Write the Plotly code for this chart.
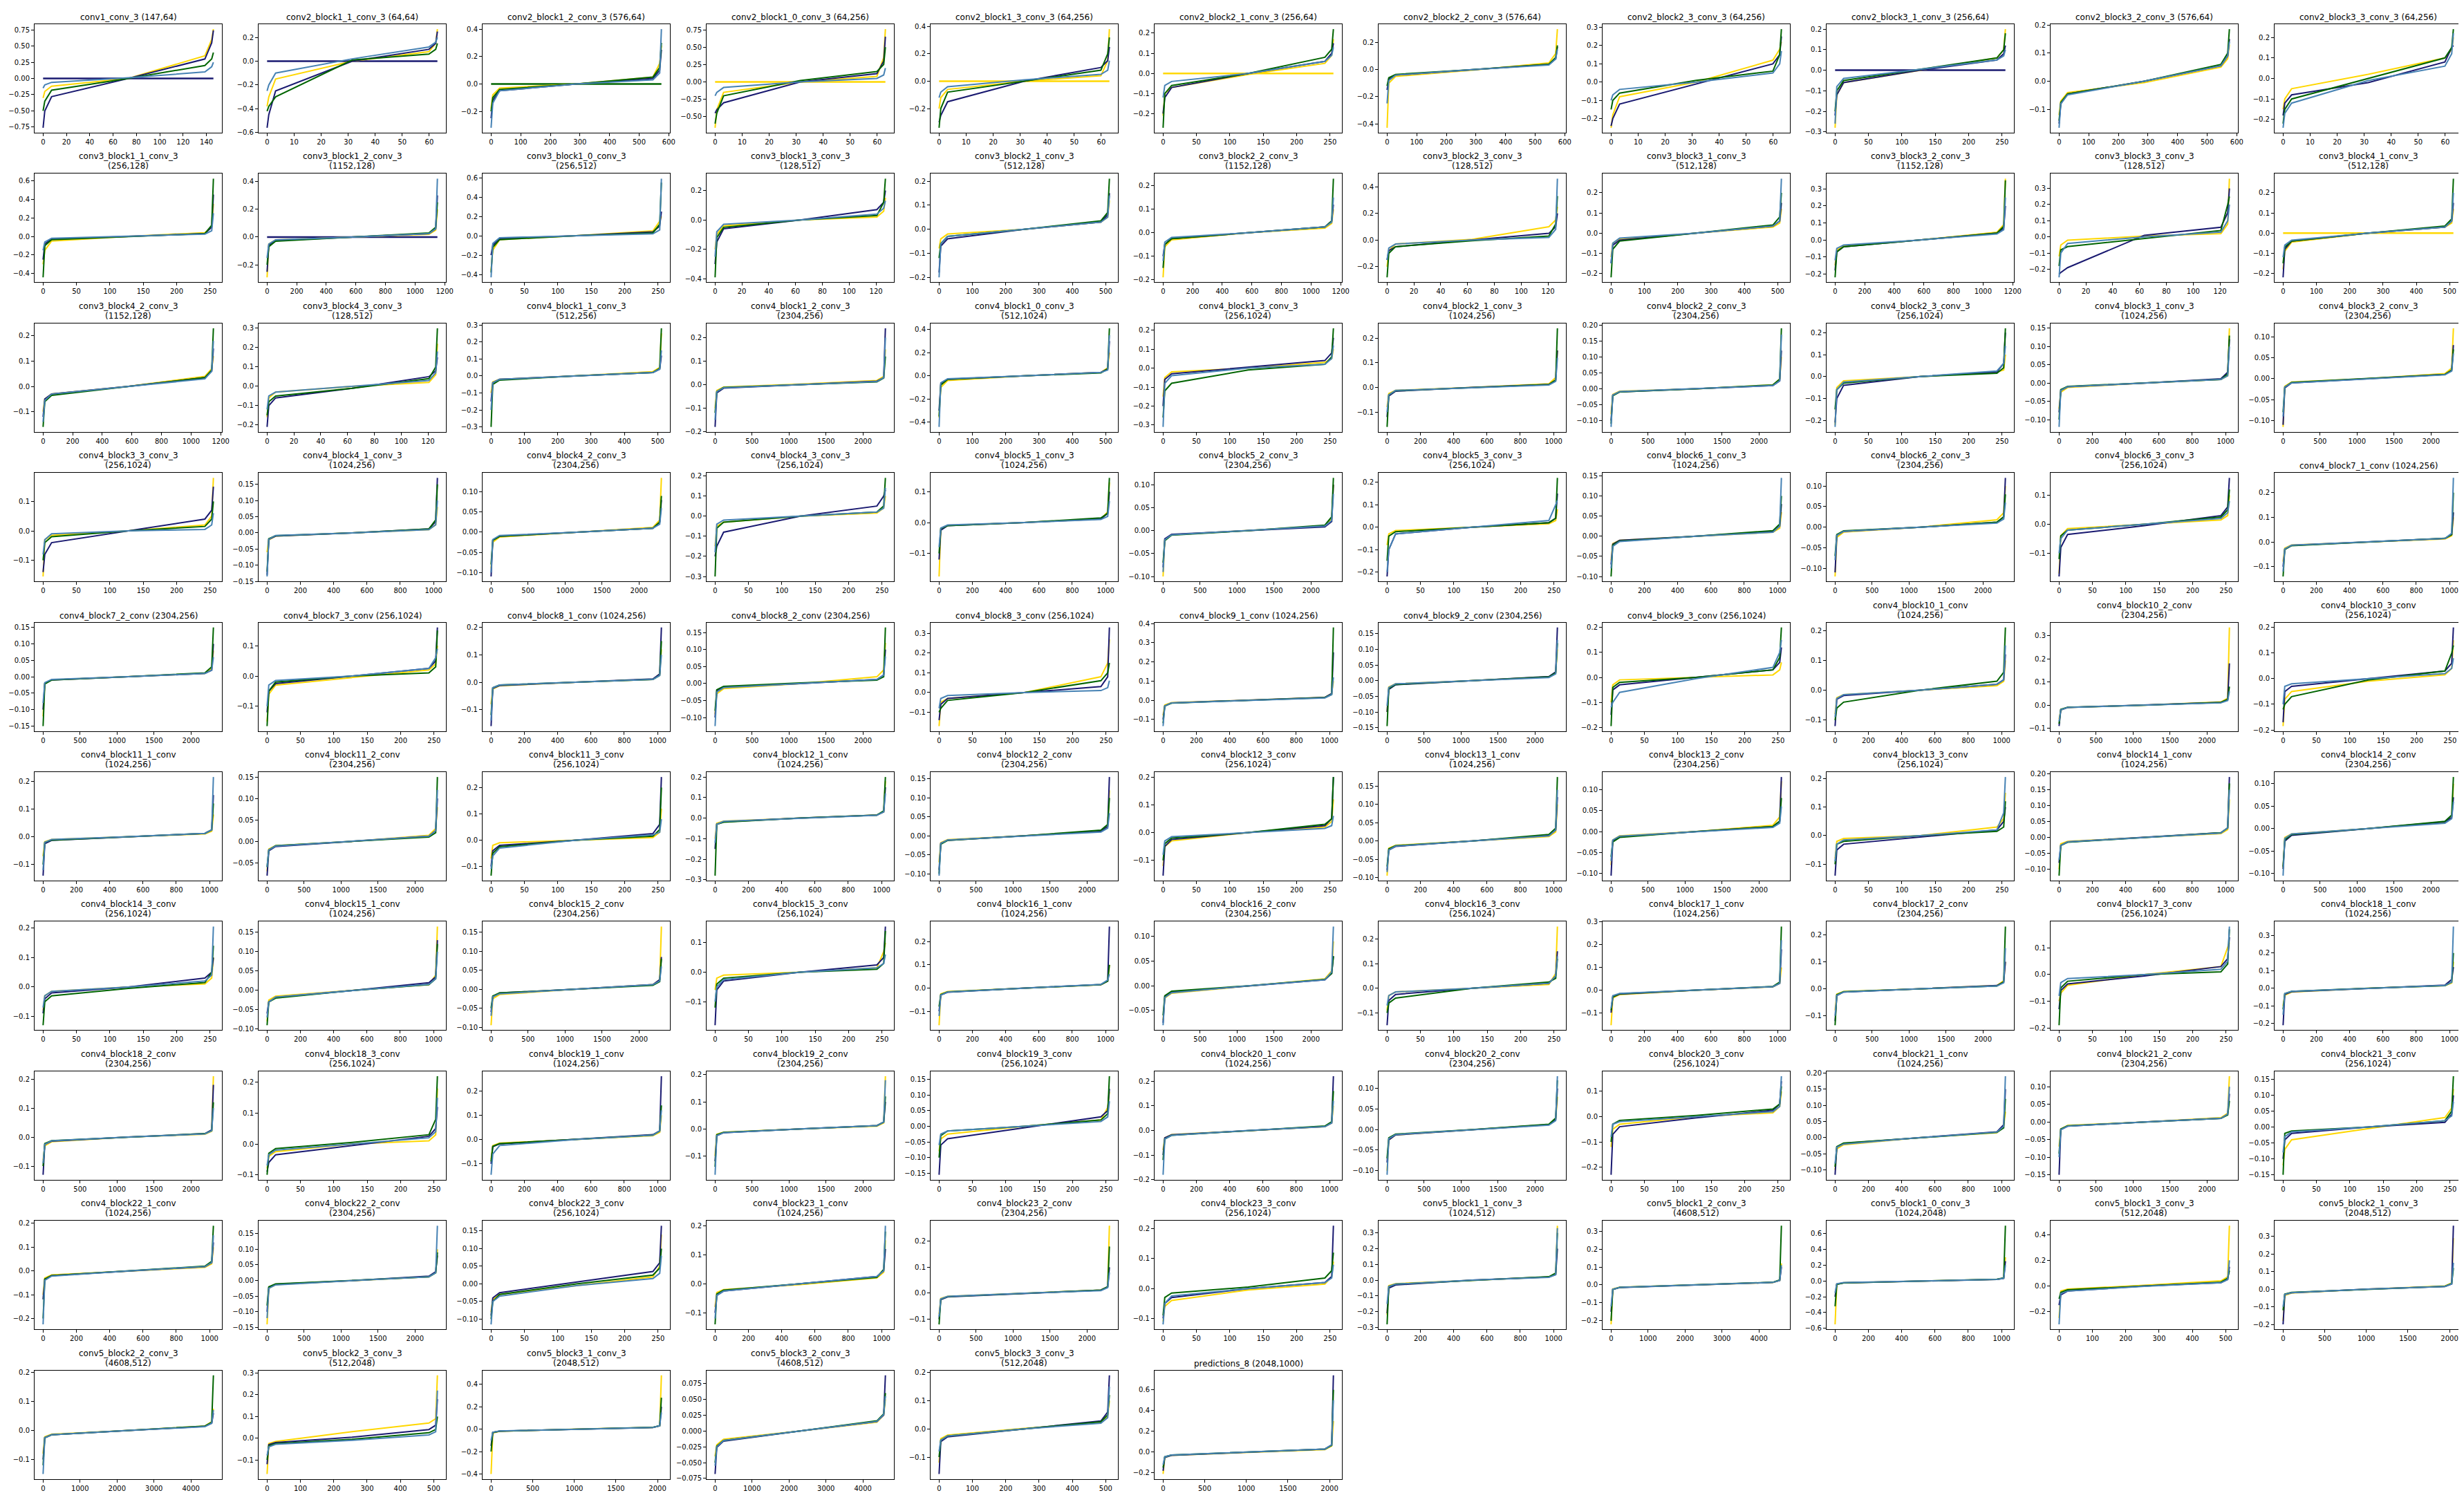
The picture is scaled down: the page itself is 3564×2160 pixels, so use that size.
import math
import plotly.graph_objects as go

W, H = 3564, 2160
FONT = "DejaVu Sans"

TITLES = [
    "conv1_conv_3 (147,64)", "conv2_block1_1_conv_3 (64,64)", "conv2_block1_2_conv_3 (576,64)",
    "conv2_block1_0_conv_3 (64,256)", "conv2_block1_3_conv_3 (64,256)", "conv2_block2_1_conv_3 (256,64)",
    "conv2_block2_2_conv_3 (576,64)", "conv2_block2_3_conv_3 (64,256)", "conv2_block3_1_conv_3 (256,64)",
    "conv2_block3_2_conv_3 (576,64)", "conv2_block3_3_conv_3 (64,256)",
    "conv3_block1_1_conv_3\n(256,128)", "conv3_block1_2_conv_3\n(1152,128)", "conv3_block1_0_conv_3\n(256,512)",
    "conv3_block1_3_conv_3\n(128,512)", "conv3_block2_1_conv_3\n(512,128)", "conv3_block2_2_conv_3\n(1152,128)",
    "conv3_block2_3_conv_3\n(128,512)", "conv3_block3_1_conv_3\n(512,128)", "conv3_block3_2_conv_3\n(1152,128)",
    "conv3_block3_3_conv_3\n(128,512)", "conv3_block4_1_conv_3\n(512,128)",
    "conv3_block4_2_conv_3\n(1152,128)", "conv3_block4_3_conv_3\n(128,512)", "conv4_block1_1_conv_3\n(512,256)",
    "conv4_block1_2_conv_3\n(2304,256)", "conv4_block1_0_conv_3\n(512,1024)", "conv4_block1_3_conv_3\n(256,1024)",
    "conv4_block2_1_conv_3\n(1024,256)", "conv4_block2_2_conv_3\n(2304,256)", "conv4_block2_3_conv_3\n(256,1024)",
    "conv4_block3_1_conv_3\n(1024,256)", "conv4_block3_2_conv_3\n(2304,256)",
    "conv4_block3_3_conv_3\n(256,1024)", "conv4_block4_1_conv_3\n(1024,256)", "conv4_block4_2_conv_3\n(2304,256)",
    "conv4_block4_3_conv_3\n(256,1024)", "conv4_block5_1_conv_3\n(1024,256)", "conv4_block5_2_conv_3\n(2304,256)",
    "conv4_block5_3_conv_3\n(256,1024)", "conv4_block6_1_conv_3\n(1024,256)", "conv4_block6_2_conv_3\n(2304,256)",
    "conv4_block6_3_conv_3\n(256,1024)", "conv4_block7_1_conv (1024,256)",
    "conv4_block7_2_conv (2304,256)", "conv4_block7_3_conv (256,1024)", "conv4_block8_1_conv (1024,256)",
    "conv4_block8_2_conv (2304,256)", "conv4_block8_3_conv (256,1024)", "conv4_block9_1_conv (1024,256)",
    "conv4_block9_2_conv (2304,256)", "conv4_block9_3_conv (256,1024)", "conv4_block10_1_conv\n(1024,256)",
    "conv4_block10_2_conv\n(2304,256)", "conv4_block10_3_conv\n(256,1024)",
    "conv4_block11_1_conv\n(1024,256)", "conv4_block11_2_conv\n(2304,256)", "conv4_block11_3_conv\n(256,1024)",
    "conv4_block12_1_conv\n(1024,256)", "conv4_block12_2_conv\n(2304,256)", "conv4_block12_3_conv\n(256,1024)",
    "conv4_block13_1_conv\n(1024,256)", "conv4_block13_2_conv\n(2304,256)", "conv4_block13_3_conv\n(256,1024)",
    "conv4_block14_1_conv\n(1024,256)", "conv4_block14_2_conv\n(2304,256)",
    "conv4_block14_3_conv\n(256,1024)", "conv4_block15_1_conv\n(1024,256)", "conv4_block15_2_conv\n(2304,256)",
    "conv4_block15_3_conv\n(256,1024)", "conv4_block16_1_conv\n(1024,256)", "conv4_block16_2_conv\n(2304,256)",
    "conv4_block16_3_conv\n(256,1024)", "conv4_block17_1_conv\n(1024,256)", "conv4_block17_2_conv\n(2304,256)",
    "conv4_block17_3_conv\n(256,1024)", "conv4_block18_1_conv\n(1024,256)",
    "conv4_block18_2_conv\n(2304,256)", "conv4_block18_3_conv\n(256,1024)", "conv4_block19_1_conv\n(1024,256)",
    "conv4_block19_2_conv\n(2304,256)", "conv4_block19_3_conv\n(256,1024)", "conv4_block20_1_conv\n(1024,256)",
    "conv4_block20_2_conv\n(2304,256)", "conv4_block20_3_conv\n(256,1024)", "conv4_block21_1_conv\n(1024,256)",
    "conv4_block21_2_conv\n(2304,256)", "conv4_block21_3_conv\n(256,1024)",
    "conv4_block22_1_conv\n(1024,256)", "conv4_block22_2_conv\n(2304,256)", "conv4_block22_3_conv\n(256,1024)",
    "conv4_block23_1_conv\n(1024,256)", "conv4_block23_2_conv\n(2304,256)", "conv4_block23_3_conv\n(256,1024)",
    "conv5_block1_1_conv_3\n(1024,512)", "conv5_block1_2_conv_3\n(4608,512)", "conv5_block1_0_conv_3\n(1024,2048)",
    "conv5_block1_3_conv_3\n(512,2048)", "conv5_block2_1_conv_3\n(2048,512)",
    "conv5_block2_2_conv_3\n(4608,512)", "conv5_block2_3_conv_3\n(512,2048)", "conv5_block3_1_conv_3\n(2048,512)",
    "conv5_block3_2_conv_3\n(4608,512)", "conv5_block3_3_conv_3\n(512,2048)", "predictions_8 (2048,1000)",
]

# number of sorted values per curve (first dimension in each title)
NX = [
    147, 64, 576, 64, 64, 256, 576, 64, 256, 576, 64,
    256, 1152, 256, 128, 512, 1152, 128, 512, 1152, 128, 512,
    1152, 128, 512, 2304, 512, 256, 1024, 2304, 256, 1024, 2304,
    256, 1024, 2304, 256, 1024, 2304, 256, 1024, 2304, 256, 1024,
    2304, 256, 1024, 2304, 256, 1024, 2304, 256, 1024, 2304, 256,
    1024, 2304, 256, 1024, 2304, 256, 1024, 2304, 256, 1024, 2304,
    256, 1024, 2304, 256, 1024, 2304, 256, 1024, 2304, 256, 1024,
    2304, 256, 1024, 2304, 256, 1024, 2304, 256, 1024, 2304, 256,
    1024, 2304, 256, 1024, 2304, 256, 1024, 4608, 1024, 512, 2048,
    4608, 512, 2048, 4608, 512, 2048,
]

# fraction of the sorted index at which each value below was read
FRAC = [0.0, 0.01, 0.05, 0.5, 0.95, 0.99, 1.0]

NAVY = [
    [-0.76, -0.5, -0.28, 0.0, 0.3, 0.55, 0.74], [-0.56, -0.45, -0.25, 0.0, 0.1, 0.15, 0.25],
    [-0.25, -0.12, -0.05, 0.0, 0.04, 0.1, 0.25], [-0.45, -0.4, -0.3, 0.0, 0.12, 0.3, 0.65],
    [-0.3, -0.25, -0.15, 0.0, 0.1, 0.15, 0.25], [-0.2, -0.12, -0.07, 0.0, 0.06, 0.1, 0.15],
    [-0.15, -0.07, -0.04, 0.0, 0.04, 0.08, 0.17], [-0.24, -0.2, -0.12, -0.01, 0.1, 0.15, 0.25],
    [-0.22, -0.12, -0.06, 0.0, 0.05, 0.08, 0.12], [-0.15, -0.08, -0.045, 0.0, 0.055, 0.09, 0.15],
    [-0.18, -0.12, -0.08, -0.02, 0.08, 0.15, 0.16],
    [-0.25, -0.08, -0.03, 0.0, 0.03, 0.1, 0.45], [-0.25, -0.06, -0.025, 0.0, 0.025, 0.06, 0.3],
    [-0.2, -0.1, -0.03, 0.0, 0.04, 0.1, 0.25], [-0.3, -0.15, -0.06, 0.0, 0.07, 0.12, 0.2],
    [-0.18, -0.07, -0.04, 0.0, 0.03, 0.06, 0.15], [-0.1, -0.05, -0.025, 0.0, 0.025, 0.05, 0.12],
    [-0.15, -0.08, -0.05, 0.0, 0.05, 0.1, 0.2], [-0.15, -0.06, -0.035, 0.0, 0.035, 0.06, 0.15],
    [-0.18, -0.07, -0.04, 0.0, 0.04, 0.07, 0.2], [-0.23, -0.22, -0.19, 0.01, 0.06, 0.15, 0.3],
    [-0.22, -0.08, -0.04, 0.0, 0.03, 0.06, 0.15],
    [-0.12, -0.05, -0.03, 0.0, 0.035, 0.06, 0.15], [-0.21, -0.1, -0.06, -0.01, 0.05, 0.08, 0.15],
    [-0.15, -0.04, -0.02, 0.0, 0.02, 0.04, 0.12], [-0.18, -0.035, -0.015, 0.0, 0.015, 0.03, 0.24],
    [-0.3, -0.07, -0.03, 0.0, 0.03, 0.06, 0.3], [-0.2, -0.06, -0.03, 0.005, 0.04, 0.08, 0.16],
    [-0.12, -0.035, -0.015, 0.0, 0.012, 0.03, 0.15], [-0.1, -0.02, -0.01, 0.0, 0.01, 0.025, 0.12],
    [-0.21, -0.1, -0.04, 0.0, 0.02, 0.06, 0.2], [-0.08, -0.02, -0.01, 0.0, 0.012, 0.03, 0.12],
    [-0.11, -0.022, -0.01, 0.0, 0.01, 0.02, 0.08],
    [-0.14, -0.08, -0.04, 0.0, 0.04, 0.07, 0.15], [-0.13, -0.02, -0.01, 0.0, 0.012, 0.035, 0.17],
    [-0.11, -0.02, -0.01, 0.0, 0.01, 0.025, 0.08], [-0.2, -0.15, -0.08, 0.0, 0.05, 0.1, 0.13],
    [-0.12, -0.025, -0.01, 0.0, 0.012, 0.03, 0.1], [-0.08, -0.018, -0.008, 0.0, 0.008, 0.02, 0.1],
    [-0.22, -0.1, -0.03, 0.0, 0.02, 0.04, 0.15], [-0.07, -0.02, -0.01, 0.0, 0.012, 0.025, 0.08],
    [-0.11, -0.02, -0.01, 0.0, 0.012, 0.025, 0.12], [-0.18, -0.08, -0.035, -0.005, 0.03, 0.06, 0.16],
    [-0.1, -0.03, -0.014, 0.0, 0.014, 0.03, 0.12],
    [-0.1, -0.02, -0.01, 0.0, 0.01, 0.02, 0.1], [-0.12, -0.05, -0.025, 0.0, 0.025, 0.05, 0.16],
    [-0.16, -0.022, -0.012, 0.0, 0.012, 0.03, 0.2], [-0.1, -0.02, -0.01, 0.0, 0.012, 0.025, 0.1],
    [-0.14, -0.06, -0.03, 0.0, 0.03, 0.08, 0.33], [-0.1, -0.03, -0.014, 0.0, 0.015, 0.035, 0.25],
    [-0.1, -0.028, -0.013, 0.0, 0.013, 0.028, 0.17], [-0.15, -0.05, -0.03, 0.0, 0.03, 0.06, 0.12],
    [-0.12, -0.03, -0.018, 0.0, 0.02, 0.035, 0.12], [-0.09, -0.02, -0.01, 0.0, 0.012, 0.025, 0.18],
    [-0.17, -0.05, -0.03, 0.0, 0.03, 0.06, 0.2],
    [-0.14, -0.025, -0.013, 0.0, 0.012, 0.025, 0.15], [-0.08, -0.022, -0.012, 0.0, 0.012, 0.025, 0.1],
    [-0.1, -0.04, -0.02, 0.0, 0.025, 0.06, 0.24], [-0.15, -0.03, -0.018, 0.0, 0.015, 0.03, 0.15],
    [-0.09, -0.02, -0.012, 0.0, 0.012, 0.025, 0.155], [-0.155, -0.05, -0.025, 0.0, 0.025, 0.05, 0.2],
    [-0.08, -0.025, -0.015, 0.0, 0.015, 0.03, 0.12], [-0.105, -0.022, -0.012, 0.0, 0.012, 0.025, 0.13],
    [-0.14, -0.05, -0.03, -0.005, 0.02, 0.05, 0.1], [-0.08, -0.025, -0.014, 0.0, 0.015, 0.03, 0.19],
    [-0.09, -0.028, -0.015, 0.0, 0.015, 0.025, 0.07],
    [-0.09, -0.04, -0.02, 0.0, 0.03, 0.05, 0.1], [-0.06, -0.03, -0.018, 0.0, 0.02, 0.035, 0.13],
    [-0.06, -0.02, -0.01, 0.0, 0.012, 0.025, 0.085], [-0.18, -0.06, -0.03, 0.0, 0.025, 0.05, 0.155],
    [-0.1, -0.03, -0.018, 0.0, 0.015, 0.03, 0.265], [-0.075, -0.022, -0.013, 0.0, 0.012, 0.025, 0.06],
    [-0.15, -0.05, -0.025, 0.0, 0.02, 0.05, 0.15], [-0.1, -0.03, -0.018, 0.0, 0.015, 0.03, 0.18],
    [-0.12, -0.025, -0.012, 0.0, 0.012, 0.025, 0.1], [-0.13, -0.06, -0.035, -0.005, 0.03, 0.06, 0.14],
    [-0.21, -0.035, -0.02, 0.0, 0.018, 0.05, 0.12],
    [-0.13, -0.025, -0.014, 0.0, 0.012, 0.025, 0.18], [-0.09, -0.06, -0.035, -0.005, 0.025, 0.05, 0.12],
    [-0.1, -0.03, -0.018, 0.0, 0.02, 0.035, 0.26], [-0.12, -0.025, -0.014, 0.0, 0.012, 0.025, 0.1],
    [-0.155, -0.06, -0.04, -0.005, 0.03, 0.05, 0.12], [-0.1, -0.03, -0.018, 0.0, 0.016, 0.03, 0.22],
    [-0.08, -0.025, -0.013, 0.0, 0.012, 0.025, 0.1], [-0.23, -0.07, -0.04, -0.005, 0.025, 0.05, 0.14],
    [-0.115, -0.03, -0.018, 0.0, 0.018, 0.04, 0.15], [-0.15, -0.022, -0.012, 0.0, 0.01, 0.022, 0.08],
    [-0.1, -0.04, -0.02, 0.0, 0.015, 0.04, 0.1],
    [-0.12, -0.035, -0.02, 0.0, 0.018, 0.035, 0.12], [-0.1, -0.022, -0.012, 0.0, 0.014, 0.028, 0.08],
    [-0.09, -0.04, -0.025, 0.005, 0.035, 0.06, 0.165], [-0.1, -0.04, -0.025, 0.0, 0.025, 0.045, 0.12],
    [-0.1, -0.025, -0.014, 0.0, 0.012, 0.025, 0.1], [-0.1, -0.05, -0.03, 0.0, 0.02, 0.04, 0.21],
    [-0.21, -0.05, -0.03, 0.0, 0.02, 0.035, 0.2], [-0.15, -0.025, -0.015, 0.0, 0.014, 0.025, 0.1],
    [-0.2, -0.04, -0.025, 0.0, 0.02, 0.035, 0.25], [-0.15, -0.07, -0.04, 0.0, 0.025, 0.05, 0.15],
    [-0.2, -0.03, -0.02, 0.0, 0.015, 0.03, 0.36],
    [-0.1, -0.025, -0.015, 0.0, 0.014, 0.025, 0.06], [-0.12, -0.03, -0.02, 0.005, 0.04, 0.06, 0.18],
    [-0.15, -0.03, -0.018, 0.0, 0.015, 0.03, 0.2], [-0.068, -0.026, -0.016, 0.0, 0.015, 0.025, 0.088],
    [-0.16, -0.045, -0.028, 0.0, 0.028, 0.06, 0.19], [-0.18, -0.05, -0.03, 0.0, 0.03, 0.07, 0.74],
]

GREEN = [
    [-0.5, -0.35, -0.18, 0.0, 0.2, 0.3, 0.4], [-0.42, -0.38, -0.3, 0.01, 0.06, 0.1, 0.15],
    [-0.2, -0.1, -0.04, 0.0, 0.05, 0.12, 0.3], [-0.6, -0.45, -0.2, 0.02, 0.15, 0.25, 0.5],
    [-0.34, -0.2, -0.08, 0.0, 0.08, 0.2, 0.32], [-0.27, -0.1, -0.06, 0.0, 0.08, 0.12, 0.22],
    [-0.12, -0.06, -0.035, 0.0, 0.04, 0.09, 0.18], [-0.15, -0.1, -0.06, 0.01, 0.06, 0.15, 0.29],
    [-0.2, -0.1, -0.05, 0.005, 0.06, 0.1, 0.18], [-0.14, -0.075, -0.045, 0.0, 0.06, 0.1, 0.185],
    [-0.22, -0.15, -0.1, 0.0, 0.1, 0.15, 0.24],
    [-0.44, -0.1, -0.035, 0.0, 0.03, 0.12, 0.62], [-0.2, -0.07, -0.03, 0.0, 0.03, 0.07, 0.25],
    [-0.38, -0.12, -0.04, 0.0, 0.03, 0.12, 0.55], [-0.39, -0.12, -0.05, 0.0, 0.03, 0.12, 0.28],
    [-0.12, -0.06, -0.03, 0.0, 0.035, 0.07, 0.21], [-0.15, -0.05, -0.025, 0.0, 0.025, 0.05, 0.23],
    [-0.28, -0.1, -0.05, -0.005, 0.03, 0.12, 0.33], [-0.22, -0.08, -0.04, 0.0, 0.04, 0.08, 0.2],
    [-0.22, -0.07, -0.04, 0.0, 0.04, 0.08, 0.35], [-0.18, -0.08, -0.06, -0.01, 0.04, 0.2, 0.25],
    [-0.15, -0.07, -0.04, 0.0, 0.035, 0.07, 0.27],
    [-0.16, -0.06, -0.035, 0.0, 0.035, 0.065, 0.23], [-0.15, -0.08, -0.05, -0.01, 0.04, 0.1, 0.3],
    [-0.3, -0.05, -0.025, 0.0, 0.02, 0.045, 0.28], [-0.12, -0.03, -0.012, 0.0, 0.012, 0.028, 0.12],
    [-0.35, -0.08, -0.03, 0.0, 0.025, 0.06, 0.41], [-0.26, -0.12, -0.08, -0.01, 0.02, 0.06, 0.21],
    [-0.16, -0.03, -0.013, 0.0, 0.012, 0.03, 0.24], [-0.11, -0.022, -0.01, 0.0, 0.012, 0.03, 0.19],
    [-0.15, -0.06, -0.03, 0.0, 0.015, 0.04, 0.22], [-0.1, -0.018, -0.009, 0.0, 0.01, 0.025, 0.13],
    [-0.08, -0.02, -0.009, 0.0, 0.01, 0.02, 0.07],
    [-0.1, -0.04, -0.02, 0.0, 0.015, 0.04, 0.1], [-0.12, -0.018, -0.009, 0.0, 0.012, 0.04, 0.15],
    [-0.08, -0.02, -0.01, 0.0, 0.01, 0.025, 0.09], [-0.3, -0.06, -0.03, 0.0, 0.02, 0.05, 0.19],
    [-0.1, -0.02, -0.01, 0.0, 0.015, 0.03, 0.145], [-0.07, -0.022, -0.01, 0.0, 0.012, 0.03, 0.115],
    [-0.15, -0.04, -0.02, 0.0, 0.02, 0.04, 0.22], [-0.1, -0.022, -0.012, 0.0, 0.014, 0.03, 0.1],
    [-0.07, -0.018, -0.009, 0.0, 0.012, 0.025, 0.08], [-0.12, -0.04, -0.02, 0.0, 0.025, 0.05, 0.12],
    [-0.14, -0.03, -0.015, 0.0, 0.015, 0.03, 0.2],
    [-0.15, -0.022, -0.01, 0.0, 0.012, 0.03, 0.15], [-0.165, -0.05, -0.02, 0.0, 0.01, 0.03, 0.15],
    [-0.12, -0.02, -0.01, 0.0, 0.01, 0.025, 0.15], [-0.08, -0.018, -0.008, 0.002, 0.01, 0.02, 0.165],
    [-0.1, -0.08, -0.04, 0.0, 0.06, 0.1, 0.15], [-0.12, -0.03, -0.015, 0.0, 0.014, 0.03, 0.38],
    [-0.145, -0.025, -0.012, 0.0, 0.012, 0.025, 0.12], [-0.195, -0.04, -0.02, 0.0, 0.03, 0.08, 0.2],
    [-0.1, -0.06, -0.04, 0.0, 0.03, 0.06, 0.21], [-0.08, -0.018, -0.009, 0.0, 0.012, 0.025, 0.08],
    [-0.12, -0.1, -0.07, -0.005, 0.03, 0.1, 0.13],
    [-0.1, -0.02, -0.012, 0.0, 0.012, 0.025, 0.12], [-0.06, -0.02, -0.01, 0.0, 0.01, 0.02, 0.15],
    [-0.135, -0.05, -0.025, 0.0, 0.015, 0.04, 0.2], [-0.28, -0.03, -0.02, 0.0, 0.015, 0.035, 0.2],
    [-0.1, -0.022, -0.012, 0.0, 0.015, 0.03, 0.1], [-0.1, -0.04, -0.02, 0.0, 0.03, 0.05, 0.2],
    [-0.07, -0.022, -0.013, 0.0, 0.018, 0.035, 0.175], [-0.06, -0.025, -0.014, 0.0, 0.012, 0.025, 0.08],
    [-0.1, -0.03, -0.02, 0.0, 0.015, 0.03, 0.12], [-0.12, -0.025, -0.015, 0.0, 0.015, 0.03, 0.17],
    [-0.085, -0.025, -0.013, 0.0, 0.016, 0.03, 0.115],
    [-0.13, -0.05, -0.03, -0.005, 0.015, 0.05, 0.14], [-0.09, -0.03, -0.02, 0.0, 0.015, 0.03, 0.12],
    [-0.05, -0.018, -0.01, 0.0, 0.01, 0.02, 0.08], [-0.12, -0.04, -0.02, 0.0, 0.01, 0.03, 0.14],
    [-0.08, -0.028, -0.016, 0.0, 0.015, 0.03, 0.1], [-0.06, -0.02, -0.011, 0.0, 0.013, 0.025, 0.06],
    [-0.1, -0.06, -0.04, 0.0, 0.025, 0.04, 0.12], [-0.09, -0.03, -0.016, 0.0, 0.016, 0.035, 0.28],
    [-0.135, -0.022, -0.011, 0.0, 0.01, 0.025, 0.23], [-0.19, -0.05, -0.025, 0.0, 0.01, 0.04, 0.17],
    [-0.12, -0.03, -0.018, 0.0, 0.015, 0.035, 0.2],
    [-0.1, -0.022, -0.012, 0.0, 0.012, 0.022, 0.12], [-0.1, -0.03, -0.015, 0.005, 0.03, 0.08, 0.22],
    [-0.09, -0.028, -0.017, 0.0, 0.018, 0.035, 0.14], [-0.14, -0.022, -0.013, 0.0, 0.012, 0.025, 0.12],
    [-0.1, -0.03, -0.015, 0.0, 0.02, 0.04, 0.16], [-0.12, -0.035, -0.02, 0.0, 0.018, 0.035, 0.16],
    [-0.07, -0.02, -0.011, 0.0, 0.013, 0.028, 0.12], [-0.1, -0.03, -0.015, 0.005, 0.03, 0.05, 0.12],
    [-0.09, -0.028, -0.017, 0.0, 0.016, 0.03, 0.12], [-0.09, -0.02, -0.011, 0.0, 0.01, 0.02, 0.06],
    [-0.15, -0.02, -0.012, 0.0, 0.02, 0.05, 0.16],
    [-0.2, -0.035, -0.02, 0.0, 0.02, 0.04, 0.19], [-0.08, -0.02, -0.011, 0.0, 0.012, 0.025, 0.09],
    [-0.1, -0.05, -0.03, 0.0, 0.025, 0.045, 0.1], [-0.14, -0.035, -0.022, 0.0, 0.022, 0.05, 0.18],
    [-0.12, -0.023, -0.013, 0.0, 0.012, 0.025, 0.18], [-0.09, -0.03, -0.015, 0.005, 0.035, 0.06, 0.12],
    [-0.28, -0.04, -0.025, 0.0, 0.022, 0.045, 0.3], [-0.2, -0.025, -0.014, 0.0, 0.015, 0.028, 0.33],
    [-0.32, -0.045, -0.025, 0.0, 0.022, 0.04, 0.7], [-0.1, -0.05, -0.03, 0.0, 0.03, 0.06, 0.12],
    [-0.12, -0.028, -0.018, 0.0, 0.016, 0.032, 0.12],
    [-0.12, -0.025, -0.015, 0.0, 0.015, 0.028, 0.19], [-0.1, -0.035, -0.025, -0.005, 0.025, 0.04, 0.1],
    [-0.2, -0.03, -0.018, 0.0, 0.016, 0.03, 0.28], [-0.05, -0.024, -0.015, 0.0, 0.016, 0.027, 0.06],
    [-0.1, -0.04, -0.025, 0.0, 0.025, 0.05, 0.12], [-0.15, -0.045, -0.028, 0.0, 0.03, 0.065, 0.6],
]

GOLD = [
    [-0.3, -0.2, -0.12, 0.0, 0.35, 0.6, 0.76], [-0.38, -0.3, -0.15, 0.0, 0.08, 0.15, 0.27],
    [-0.18, -0.08, -0.03, 0.0, 0.05, 0.15, 0.28], [-0.66, -0.4, -0.15, 0.0, 0.08, 0.35, 0.76],
    [-0.2, -0.12, -0.06, 0.0, 0.04, 0.15, 0.38], [-0.21, -0.1, -0.07, -0.005, 0.05, 0.09, 0.17],
    [-0.43, -0.1, -0.05, -0.003, 0.05, 0.12, 0.3], [-0.25, -0.18, -0.08, 0.0, 0.12, 0.18, 0.22],
    [-0.28, -0.12, -0.06, 0.0, 0.06, 0.1, 0.2], [-0.12, -0.07, -0.04, -0.005, 0.05, 0.08, 0.13],
    [-0.15, -0.1, -0.05, 0.02, 0.1, 0.14, 0.2],
    [-0.3, -0.15, -0.05, 0.0, 0.04, 0.1, 0.35], [-0.29, -0.05, -0.02, 0.0, 0.02, 0.05, 0.2],
    [-0.36, -0.15, -0.04, 0.0, 0.05, 0.15, 0.2], [-0.2, -0.1, -0.04, 0.0, 0.02, 0.06, 0.15],
    [-0.08, -0.04, -0.02, 0.0, 0.03, 0.05, 0.12], [-0.19, -0.06, -0.03, 0.0, 0.02, 0.04, 0.1],
    [-0.2, -0.08, -0.03, 0.005, 0.1, 0.15, 0.25], [-0.12, -0.05, -0.03, 0.0, 0.03, 0.05, 0.12],
    [-0.15, -0.06, -0.035, 0.0, 0.045, 0.09, 0.36], [-0.12, -0.05, -0.02, 0.005, 0.02, 0.08, 0.36],
    [-0.18, -0.09, -0.045, 0.0, 0.03, 0.05, 0.12],
    [-0.1, -0.05, -0.03, 0.0, 0.04, 0.07, 0.12], [-0.16, -0.06, -0.03, 0.0, 0.02, 0.06, 0.22],
    [-0.1, -0.035, -0.02, 0.0, 0.025, 0.05, 0.25], [-0.1, -0.025, -0.01, 0.002, 0.018, 0.035, 0.15],
    [-0.36, -0.1, -0.04, 0.0, 0.03, 0.07, 0.2], [-0.15, -0.05, -0.02, 0.0, 0.03, 0.05, 0.1],
    [-0.08, -0.025, -0.012, 0.0, 0.015, 0.04, 0.15], [-0.08, -0.018, -0.008, 0.0, 0.012, 0.03, 0.1],
    [-0.22, -0.05, -0.02, 0.0, 0.02, 0.03, 0.1], [-0.07, -0.025, -0.012, 0.0, 0.01, 0.02, 0.15],
    [-0.115, -0.018, -0.008, 0.0, 0.012, 0.025, 0.12],
    [-0.155, -0.03, -0.015, 0.0, 0.02, 0.05, 0.18], [-0.06, -0.022, -0.01, 0.0, 0.01, 0.025, 0.08],
    [-0.09, -0.025, -0.012, 0.0, 0.012, 0.03, 0.135], [-0.15, -0.05, -0.03, 0.0, 0.015, 0.04, 0.1],
    [-0.175, -0.02, -0.009, 0.0, 0.012, 0.035, 0.13], [-0.1, -0.02, -0.009, 0.0, 0.01, 0.025, 0.1],
    [-0.08, -0.03, -0.015, 0.0, 0.015, 0.03, 0.08], [-0.06, -0.018, -0.01, 0.0, 0.01, 0.02, 0.06],
    [-0.12, -0.025, -0.012, 0.0, 0.018, 0.035, 0.1], [-0.17, -0.04, -0.015, 0.0, 0.015, 0.03, 0.1],
    [-0.08, -0.025, -0.012, 0.0, 0.012, 0.025, 0.1],
    [-0.12, -0.02, -0.009, 0.0, 0.01, 0.025, 0.08], [-0.15, -0.06, -0.03, -0.005, 0.02, 0.04, 0.1],
    [-0.08, -0.025, -0.013, 0.0, 0.01, 0.03, 0.12], [-0.09, -0.03, -0.015, 0.0, 0.02, 0.04, 0.12],
    [-0.17, -0.05, -0.03, 0.0, 0.08, 0.15, 0.27], [-0.08, -0.025, -0.012, 0.0, 0.015, 0.035, 0.1],
    [-0.1, -0.02, -0.01, 0.0, 0.012, 0.025, 0.1], [-0.1, -0.03, -0.01, 0.0, 0.01, 0.03, 0.06],
    [-0.08, -0.025, -0.015, 0.0, 0.015, 0.03, 0.1], [-0.06, -0.02, -0.01, 0.0, 0.014, 0.03, 0.335],
    [-0.185, -0.08, -0.05, -0.01, 0.015, 0.04, 0.15],
    [-0.07, -0.018, -0.01, 0.0, 0.01, 0.02, 0.08], [-0.07, -0.018, -0.01, 0.0, 0.014, 0.03, 0.08],
    [-0.07, -0.02, -0.01, 0.0, 0.01, 0.03, 0.12], [-0.1, -0.025, -0.015, 0.0, 0.015, 0.03, 0.18],
    [-0.07, -0.018, -0.01, 0.0, 0.012, 0.025, 0.12], [-0.12, -0.05, -0.03, 0.0, 0.02, 0.04, 0.12],
    [-0.095, -0.02, -0.012, 0.0, 0.012, 0.025, 0.1], [-0.08, -0.02, -0.01, 0.0, 0.015, 0.035, 0.12],
    [-0.08, -0.02, -0.01, 0.0, 0.03, 0.06, 0.15], [-0.1, -0.02, -0.012, 0.0, 0.012, 0.025, 0.12],
    [-0.09, -0.02, -0.012, 0.0, 0.014, 0.025, 0.1],
    [-0.08, -0.03, -0.015, 0.0, 0.01, 0.03, 0.1], [-0.08, -0.025, -0.015, 0.0, 0.015, 0.04, 0.165],
    [-0.095, -0.025, -0.014, 0.0, 0.012, 0.025, 0.165], [-0.06, -0.02, -0.01, 0.0, 0.015, 0.07, 0.1],
    [-0.16, -0.025, -0.015, 0.0, 0.014, 0.03, 0.1], [-0.07, -0.025, -0.015, 0.0, 0.014, 0.03, 0.09],
    [-0.09, -0.03, -0.015, 0.0, 0.015, 0.06, 0.25], [-0.155, -0.035, -0.02, 0.0, 0.014, 0.03, 0.1],
    [-0.08, -0.02, -0.01, 0.0, 0.012, 0.03, 0.1], [-0.1, -0.07, -0.04, 0.0, 0.03, 0.1, 0.12],
    [-0.1, -0.04, -0.022, 0.0, 0.015, 0.03, 0.15],
    [-0.08, -0.03, -0.016, 0.0, 0.01, 0.02, 0.21], [-0.08, -0.04, -0.025, 0.0, 0.01, 0.03, 0.18],
    [-0.08, -0.025, -0.015, 0.0, 0.016, 0.03, 0.1], [-0.1, -0.02, -0.012, 0.0, 0.01, 0.022, 0.195],
    [-0.08, -0.04, -0.025, 0.0, 0.02, 0.06, 0.11], [-0.08, -0.03, -0.017, 0.0, 0.015, 0.03, 0.1],
    [-0.1, -0.025, -0.013, 0.0, 0.012, 0.025, 0.08], [-0.12, -0.05, -0.03, 0.0, 0.015, 0.04, 0.1],
    [-0.1, -0.035, -0.022, 0.0, 0.015, 0.035, 0.08], [-0.07, -0.02, -0.01, 0.0, 0.012, 0.025, 0.13],
    [-0.12, -0.07, -0.04, -0.005, 0.03, 0.06, 0.12],
    [-0.1, -0.03, -0.017, 0.0, 0.015, 0.03, 0.1], [-0.14, -0.025, -0.013, 0.0, 0.012, 0.025, 0.1],
    [-0.08, -0.045, -0.03, -0.005, 0.02, 0.05, 0.14], [-0.08, -0.03, -0.02, -0.003, 0.02, 0.04, 0.15],
    [-0.08, -0.02, -0.012, 0.0, 0.012, 0.025, 0.26], [-0.11, -0.06, -0.04, -0.005, 0.015, 0.04, 0.09],
    [-0.22, -0.035, -0.022, 0.0, 0.02, 0.04, 0.345], [-0.22, -0.022, -0.013, 0.0, 0.013, 0.025, 0.12],
    [-0.55, -0.04, -0.022, 0.0, 0.02, 0.035, 0.3], [-0.25, -0.04, -0.025, 0.005, 0.04, 0.07, 0.47],
    [-0.18, -0.035, -0.022, 0.0, 0.018, 0.035, 0.29],
    [-0.08, -0.022, -0.013, 0.0, 0.015, 0.03, 0.075], [-0.165, -0.025, -0.015, 0.03, 0.07, 0.09, 0.29],
    [-0.4, -0.035, -0.02, 0.0, 0.015, 0.03, 0.48], [-0.04, -0.022, -0.013, 0.0, 0.014, 0.025, 0.05],
    [-0.12, -0.035, -0.022, 0.002, 0.022, 0.045, 0.1], [-0.21, -0.05, -0.03, -0.003, 0.025, 0.06, 0.3],
]

STEEL = [
    [-0.15, -0.1, -0.06, 0.01, 0.1, 0.18, 0.25], [-0.25, -0.2, -0.1, 0.02, 0.12, 0.16, 0.2],
    [-0.32, -0.14, -0.05, 0.0, 0.03, 0.08, 0.4], [-0.2, -0.15, -0.08, 0.0, 0.05, 0.1, 0.2],
    [-0.12, -0.08, -0.04, 0.01, 0.05, 0.08, 0.15], [-0.12, -0.06, -0.04, 0.0, 0.06, 0.09, 0.13],
    [-0.25, -0.08, -0.04, 0.0, 0.035, 0.08, 0.15], [-0.1, -0.07, -0.04, 0.0, 0.05, 0.1, 0.17],
    [-0.26, -0.08, -0.04, 0.005, 0.05, 0.07, 0.1], [-0.165, -0.08, -0.048, 0.0, 0.055, 0.09, 0.14],
    [-0.24, -0.17, -0.12, -0.01, 0.06, 0.12, 0.22],
    [-0.15, -0.06, -0.02, 0.0, 0.025, 0.06, 0.25], [-0.15, -0.05, -0.02, 0.0, 0.025, 0.06, 0.42],
    [-0.43, -0.08, -0.02, 0.0, 0.02, 0.06, 0.59], [-0.25, -0.08, -0.03, 0.0, 0.04, 0.08, 0.13],
    [-0.2, -0.06, -0.03, 0.0, 0.03, 0.05, 0.14], [-0.12, -0.04, -0.02, 0.0, 0.025, 0.045, 0.15],
    [-0.15, -0.06, -0.03, 0.0, 0.02, 0.08, 0.46], [-0.15, -0.05, -0.025, 0.0, 0.035, 0.06, 0.27],
    [-0.12, -0.05, -0.03, 0.0, 0.035, 0.06, 0.25], [-0.25, -0.1, -0.04, 0.0, 0.03, 0.1, 0.2],
    [-0.12, -0.06, -0.035, 0.0, 0.03, 0.06, 0.2],
    [-0.14, -0.055, -0.03, 0.0, 0.03, 0.06, 0.18], [-0.12, -0.05, -0.03, 0.0, 0.03, 0.07, 0.18],
    [-0.2, -0.04, -0.02, 0.0, 0.02, 0.04, 0.15], [-0.15, -0.03, -0.013, 0.0, 0.013, 0.03, 0.2],
    [-0.44, -0.06, -0.025, 0.0, 0.03, 0.05, 0.35], [-0.31, -0.08, -0.04, 0.0, 0.02, 0.05, 0.12],
    [-0.1, -0.03, -0.012, 0.0, 0.01, 0.025, 0.12], [-0.12, -0.02, -0.009, 0.0, 0.01, 0.025, 0.17],
    [-0.23, -0.06, -0.025, 0.0, 0.025, 0.06, 0.14], [-0.12, -0.02, -0.01, 0.0, 0.01, 0.02, 0.1],
    [-0.09, -0.02, -0.01, 0.0, 0.009, 0.018, 0.06],
    [-0.08, -0.03, -0.01, 0.0, 0.005, 0.02, 0.06], [-0.135, -0.02, -0.008, 0.0, 0.01, 0.025, 0.1],
    [-0.1, -0.018, -0.008, 0.0, 0.01, 0.02, 0.06], [-0.18, -0.04, -0.02, 0.0, 0.02, 0.04, 0.14],
    [-0.08, -0.018, -0.008, 0.0, 0.01, 0.02, 0.07], [-0.09, -0.02, -0.009, 0.0, 0.01, 0.022, 0.08],
    [-0.2, -0.1, -0.03, 0.0, 0.03, 0.1, 0.12], [-0.08, -0.025, -0.013, 0.0, 0.01, 0.025, 0.145],
    [-0.08, -0.02, -0.01, 0.0, 0.01, 0.02, 0.06], [-0.1, -0.05, -0.02, 0.0, 0.02, 0.04, 0.08],
    [-0.12, -0.028, -0.013, 0.0, 0.014, 0.035, 0.26],
    [-0.08, -0.018, -0.008, 0.0, 0.01, 0.02, 0.06], [-0.1, -0.03, -0.015, 0.0, 0.025, 0.06, 0.09],
    [-0.14, -0.02, -0.01, 0.0, 0.01, 0.025, 0.1], [-0.125, -0.025, -0.012, 0.0, 0.012, 0.025, 0.08],
    [-0.08, -0.03, -0.015, 0.0, 0.01, 0.025, 0.06], [-0.135, -0.03, -0.014, 0.0, 0.012, 0.03, 0.12],
    [-0.08, -0.022, -0.01, 0.0, 0.01, 0.022, 0.13], [-0.12, -0.1, -0.06, -0.005, 0.04, 0.1, 0.15],
    [-0.09, -0.028, -0.015, 0.0, 0.02, 0.035, 0.15], [-0.07, -0.02, -0.01, 0.0, 0.01, 0.02, 0.06],
    [-0.1, -0.03, -0.02, 0.0, 0.02, 0.04, 0.08],
    [-0.12, -0.02, -0.01, 0.0, 0.012, 0.025, 0.215], [-0.06, -0.02, -0.011, 0.0, 0.012, 0.025, 0.12],
    [-0.11, -0.06, -0.03, 0.0, 0.02, 0.03, 0.08], [-0.12, -0.03, -0.016, 0.0, 0.014, 0.03, 0.12],
    [-0.105, -0.02, -0.011, 0.0, 0.01, 0.02, 0.06], [-0.08, -0.03, -0.015, 0.0, 0.015, 0.025, 0.06],
    [-0.085, -0.025, -0.014, 0.0, 0.014, 0.03, 0.14], [-0.07, -0.02, -0.011, 0.0, 0.01, 0.02, 0.06],
    [-0.09, -0.03, -0.015, 0.0, 0.02, 0.08, 0.205], [-0.07, -0.025, -0.014, 0.0, 0.014, 0.03, 0.15],
    [-0.105, -0.022, -0.012, 0.0, 0.012, 0.022, 0.06],
    [-0.07, -0.03, -0.015, 0.0, 0.02, 0.04, 0.205], [-0.07, -0.03, -0.017, 0.0, 0.016, 0.03, 0.1],
    [-0.07, -0.02, -0.012, 0.0, 0.012, 0.022, 0.06], [-0.1, -0.05, -0.025, 0.0, 0.015, 0.03, 0.06],
    [-0.12, -0.03, -0.017, 0.0, 0.016, 0.035, 0.06], [-0.08, -0.024, -0.014, 0.0, 0.012, 0.028, 0.12],
    [-0.07, -0.03, -0.015, 0.0, 0.02, 0.05, 0.13], [-0.08, -0.025, -0.015, 0.0, 0.015, 0.03, 0.22],
    [-0.1, -0.025, -0.012, 0.0, 0.01, 0.022, 0.15], [-0.08, -0.03, -0.015, 0.0, 0.02, 0.05, 0.18],
    [-0.15, -0.03, -0.018, 0.0, 0.016, 0.035, 0.35],
    [-0.09, -0.025, -0.013, 0.0, 0.011, 0.022, 0.1], [-0.07, -0.035, -0.02, 0.0, 0.02, 0.04, 0.15],
    [-0.145, -0.06, -0.025, 0.0, 0.018, 0.035, 0.12], [-0.17, -0.025, -0.014, 0.0, 0.012, 0.025, 0.18],
    [-0.06, -0.025, -0.015, 0.0, 0.015, 0.03, 0.08], [-0.18, -0.035, -0.02, 0.0, 0.015, 0.03, 0.12],
    [-0.11, -0.022, -0.012, 0.0, 0.011, 0.022, 0.13], [-0.08, -0.03, -0.02, 0.0, 0.02, 0.04, 0.16],
    [-0.08, -0.03, -0.02, 0.0, 0.017, 0.035, 0.19], [-0.1, -0.022, -0.012, 0.0, 0.01, 0.022, 0.1],
    [-0.08, -0.03, -0.015, 0.0, 0.02, 0.035, 0.08],
    [-0.225, -0.04, -0.022, 0.0, 0.018, 0.035, 0.15], [-0.12, -0.025, -0.014, 0.0, 0.012, 0.025, 0.175],
    [-0.115, -0.05, -0.035, -0.005, 0.015, 0.03, 0.08], [-0.12, -0.04, -0.025, 0.0, 0.025, 0.045, 0.2],
    [-0.09, -0.022, -0.012, 0.0, 0.01, 0.022, 0.08], [-0.12, -0.05, -0.025, 0.0, 0.02, 0.035, 0.08],
    [-0.15, -0.04, -0.025, 0.0, 0.018, 0.035, 0.33], [-0.12, -0.024, -0.014, 0.0, 0.014, 0.025, 0.11],
    [-0.15, -0.035, -0.02, 0.0, 0.02, 0.035, 0.2], [-0.3, -0.06, -0.04, -0.003, 0.025, 0.05, 0.2],
    [-0.1, -0.03, -0.02, 0.0, 0.015, 0.03, 0.15],
    [-0.15, -0.025, -0.015, 0.0, 0.013, 0.025, 0.07], [-0.08, -0.04, -0.028, -0.01, 0.015, 0.03, 0.22],
    [-0.1, -0.028, -0.017, 0.0, 0.015, 0.03, 0.15], [-0.055, -0.025, -0.015, 0.0, 0.015, 0.026, 0.055],
    [-0.08, -0.04, -0.025, 0.0, 0.02, 0.04, 0.15], [-0.12, -0.045, -0.028, 0.0, 0.03, 0.07, 0.5],
]

# panels that also contain all-zero filters (flat line at 0) and that line's colour
ZERO_IDX = [0, 1, 2, 3, 4, 5, 8, 12, 21]
ZERO_COLOR = ["navy", "navy", "green", "gold", "gold", "gold", "navy", "navy", "gold"]

COLORS = {"navy": "#191970", "steel": "#4682B4", "green": "#006400", "gold": "#FFD700"}

NCOLS = 11
AX_LEFT0, COL_PITCH, AX_W = 42, 324, 271
AX_TOP0, ROW_PITCH, AX_H = 27, 216.4, 157


def mpl_ticks(vmin, vmax, nbins):
    dv = vmax - vmin
    raw = dv / nbins
    scale = 10 ** math.floor(math.log10(raw))
    step = None
    for s in [1, 2, 2.5, 5, 10]:
        if s * scale >= raw * (1 - 1e-9):
            step = s * scale
            break
    k = math.floor(vmin / step)
    ticks = []
    while k * step <= vmax + 1e-9 * step:
        t = k * step
        if t >= vmin - 1e-9 * step:
            ticks.append(t)
        k += 1
    return ticks


def fmt_ticks(ticks):
    d = 0
    while d < 6 and any(abs(t - round(t, d)) > 1e-9 for t in ticks):
        d += 1
    out = []
    for t in ticks:
        v = round(t, d) + 0.0
        s = f"{v:.{d}f}"
        if s.startswith("-") and float(s) == 0:
            s = s[1:]
        out.append(s.replace("-", "\u2212"))
    return out


fig = go.Figure()
layout = dict(
    width=W, height=H, margin=dict(l=0, r=0, t=0, b=0),
    paper_bgcolor="white", plot_bgcolor="white", showlegend=False,
    font=dict(family=FONT, size=10, color="black"),
)
annotations = []
curve_sets = [("gold", GOLD), ("navy", NAVY), ("green", GREEN), ("steel", STEEL)]

for i, title in enumerate(TITLES):
    r, c = divmod(i, NCOLS)
    n = NX[i]
    k = "" if i == 0 else str(i + 1)
    xs = [f * (n - 1) for f in FRAC]

    vals = []
    if i in ZERO_IDX:
        col = ZERO_COLOR[ZERO_IDX.index(i)]
        fig.add_trace(go.Scatter(x=[0, n - 1], y=[0.0, 0.0], mode="lines",
                                 line=dict(color=COLORS[col], width=2.5),
                                 xaxis="x" + k, yaxis="y" + k, hoverinfo="skip"))
        vals.append(0.0)
    for cname, arr in curve_sets:
        ys = arr[i]
        vals.extend(ys)
        fig.add_trace(go.Scatter(x=xs, y=ys, mode="lines",
                                 line=dict(color=COLORS[cname], width=2),
                                 xaxis="x" + k, yaxis="y" + k, hoverinfo="skip"))

    ymin, ymax = min(vals), max(vals)
    dy = ymax - ymin
    y0, y1 = ymin - 0.05 * dy, ymax + 0.05 * dy
    x0, x1 = -0.05 * (n - 1), 1.05 * (n - 1)
    yt = mpl_ticks(y0, y1, 7)
    xt = mpl_ticks(x0, x1, 9)

    left = AX_LEFT0 + COL_PITCH * c
    top = AX_TOP0 + ROW_PITCH * r
    common = dict(showline=True, linecolor="black", linewidth=1, mirror=True,
                  ticks="outside", ticklen=4, tickwidth=1, tickcolor="black",
                  showgrid=False, zeroline=False, automargin=False,
                  tickfont=dict(family=FONT, size=10, color="black"))
    layout["xaxis" + k] = dict(domain=[left / W, (left + AX_W) / W], range=[x0, x1],
                               tickvals=xt, ticktext=[str(int(round(t))) for t in xt],
                               anchor="y" + k, **common)
    layout["yaxis" + k] = dict(domain=[1 - (top + AX_H) / H, 1 - top / H], range=[y0, y1],
                               tickvals=yt, ticktext=fmt_ticks(yt),
                               anchor="x" + k, **common)
    lines = title.split("\n")
    offsets = [10] if len(lines) == 1 else [25, 11]
    for txt, off in zip(lines, offsets):
        annotations.append(dict(text=txt, xref="paper", yref="paper",
                                x=(left + AX_W / 2) / W, y=1 - (top - off) / H,
                                xanchor="center", yanchor="middle", showarrow=False,
                                font=dict(family=FONT, size=12, color="black")))

layout["annotations"] = annotations
fig.update_layout(**layout)
fig.write_html("out.html")
